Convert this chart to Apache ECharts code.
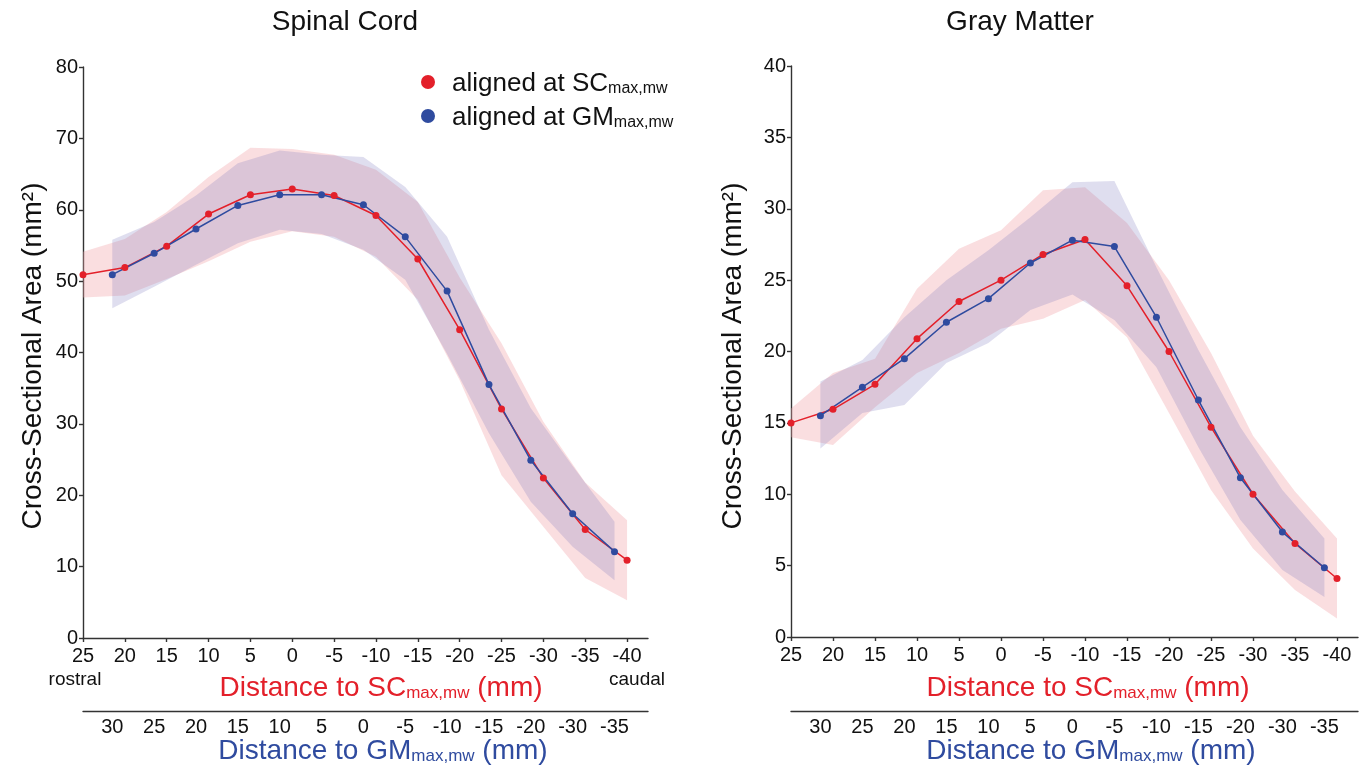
<!DOCTYPE html>
<html><head><meta charset="utf-8">
<script src="https://cdn.jsdelivr.net/npm/echarts@6/dist/echarts.min.js"></script>
<style>html,body{margin:0;padding:0;background:#fff}#c{width:1359px;height:767px}</style>
</head><body><div id="c"></div>
<script>
// ---- data ----
// positions relative to SCmax,mw (mm) for series aligned at SC
const scPositions = [25, 20, 15, 10, 5, 0, -5, -10, -15, -20, -25, -30, -35, -40];
// positions relative to GMmax,mw (mm) for series aligned at GM
const gmPositions = [30, 25, 20, 15, 10, 5, 0, -5, -10, -15, -20, -25, -30];
// GM distance = SC distance + offset
const gmOffset = 8.5;

// Spinal cord panel
const cordScMean = [50.9, 51.9, 54.9, 59.4, 62.1, 62.9, 62.0, 59.2, 53.1, 43.2, 32.1, 22.4, 15.2, 10.9];
const cordScLow  = [47.7, 48.0, 50.3, 52.8, 55.5, 57.0, 56.2, 53.4, 47.4, 36.1, 22.8, 15.6, 8.4, 5.3];
const cordScHigh = [54.1, 55.9, 59.7, 64.6, 68.7, 68.5, 67.7, 65.6, 61.1, 50.5, 41.3, 30.3, 21.8, 16.5];
const cordGmMean = [50.9, 53.9, 57.3, 60.6, 62.1, 62.1, 60.7, 56.2, 48.6, 35.5, 24.9, 17.4, 12.1];
const cordGmLow  = [46.2, 49.2, 52.3, 55.3, 57.2, 56.6, 54.4, 50.2, 39.8, 28.7, 19.1, 12.8, 8.1];
const cordGmHigh = [55.8, 58.3, 62.0, 66.5, 68.3, 67.7, 67.4, 63.2, 56.2, 43.2, 32.2, 24.1, 16.3];

// Gray matter panel
const gmScMean = [15.0, 15.95, 17.7, 20.9, 23.5, 25.0, 26.8, 27.85, 24.6, 20.0, 14.7, 10.0, 6.55, 4.1];
const gmScLow  = [14.0, 13.45, 16.1, 18.5, 19.9, 21.6, 22.3, 23.6, 21.0, 15.7, 10.3, 6.2, 3.3, 1.3];
const gmScHigh = [16.0, 18.5, 19.5, 24.4, 27.2, 28.5, 31.3, 31.5, 29.0, 25.0, 19.9, 14.1, 10.2, 6.9];
const gmGmMean = [15.5, 17.5, 19.5, 22.05, 23.7, 26.2, 27.8, 27.35, 22.4, 16.6, 11.15, 7.35, 4.85];
const gmGmLow  = [13.2, 15.7, 16.25, 19.2, 20.6, 22.9, 24.0, 22.2, 18.9, 13.3, 8.2, 4.7, 2.8];
const gmGmHigh = [17.9, 19.4, 22.4, 25.0, 27.1, 29.4, 31.85, 31.95, 25.9, 20.1, 14.7, 10.3, 6.9];

// tick labels
const scTickValues = [25, 20, 15, 10, 5, 0, -5, -10, -15, -20, -25, -30, -35, -40];
const gmTickValues = [30, 25, 20, 15, 10, 5, 0, -5, -10, -15, -20, -25, -30];
const gmTickLabels = ['30', '25', '20', '15', '10', '5', '0', '-5', '-10', '-15', '-20', '-30', '-35'];
const panelTitles = ['Spinal Cord', 'Gray Matter'];

// ---- chart ----
const RED = '#e3202a', BLUE = '#2f4b9f';
const FONT = "'Liberation Sans', Arial, sans-serif";
const chart = echarts.init(document.getElementById('c'), null, {renderer: 'canvas'});

function bandSeries(name, xIdx, xs, lo, hi, fill) {
  const data = xs.map((x, i) => [x, lo[i], hi[i]]);
  return {
    type: 'custom', name: name, xAxisIndex: xIdx, yAxisIndex: xIdx, silent: true, clip: false,
    encode: {x: 0, y: [1, 2]}, data: data, z: 1,
    renderItem: function (params, api) {
      if (params.dataIndexInside !== 0) return null;
      const n = params.dataInsideLength || data.length;
      const top = [], bot = [];
      for (let i = 0; i < n; i++) {
        top.push(api.coord([api.value(0, i), api.value(2, i)]));
        bot.push(api.coord([api.value(0, i), api.value(1, i)]));
      }
      return {type: 'polygon', shape: {points: top.concat(bot.reverse())}, style: {fill: fill}};
    }
  };
}
function lineSeries(name, xIdx, xs, ys, color) {
  return {
    type: 'line', name: name, xAxisIndex: xIdx, yAxisIndex: xIdx, z: 3,
    data: xs.map((x, i) => [x, ys[i]]),
    symbol: 'circle', symbolSize: 7, showSymbol: true,
    lineStyle: {color: color, width: 1.5}, itemStyle: {color: color}
  };
}
const gmShift = gmPositions.map(g => g - gmOffset);

const axisLineStyle = {color: '#333', width: 1.4};
function mainX(gi) {
  return {
    type: 'value', gridIndex: gi, inverse: true, min: -42.5, max: 25,
    axisLine: {show: true, onZero: false, lineStyle: axisLineStyle},
    axisTick: {show: true, length: 4, customValues: scTickValues, lineStyle: axisLineStyle},
    axisLabel: {customValues: scTickValues, margin: 8, fontSize: 20, fontFamily: FONT, color: '#111'},
    splitLine: {show: false}
  };
}
function gmX(gi) {
  return {
    type: 'value', gridIndex: gi, inverse: true, min: -42.5 + gmOffset, max: 25 + gmOffset, position: 'bottom',
    axisLine: {show: true, onZero: false, lineStyle: axisLineStyle},
    axisTick: {show: false},
    axisLabel: {customValues: gmTickValues, margin: 6, fontSize: 20, fontFamily: FONT, color: '#111',
      formatter: v => { const k = gmTickValues.indexOf(v); return k >= 0 ? gmTickLabels[k] : ''; }},
    splitLine: {show: false}
  };
}
function mainY(gi, max, interval) {
  return {
    type: 'value', gridIndex: gi, min: 0, max: max, interval: interval,
    axisLine: {show: true, onZero: false, lineStyle: axisLineStyle},
    axisTick: {show: true, length: 4, lineStyle: axisLineStyle},
    axisLabel: {margin: 5, fontSize: 20, fontFamily: FONT, color: '#111'},
    splitLine: {show: false}
  };
}
function hiddenY(gi) {
  return {type: 'value', gridIndex: gi, min: 0, max: 1, show: false};
}

function sub(main, color, size, subSize, x, y) {
  return {
    type: 'text', x: x, y: y,
    style: {
      text: '{a|' + main[0] + '}{s|max,mw}{a|' + main[1] + '}',
      rich: {
        a: {fontSize: size, fontFamily: FONT, fill: color, color: color, verticalAlign: 'bottom'},
        s: {fontSize: subSize, fontFamily: FONT, fill: color, color: color, verticalAlign: 'bottom'}
      },
      align: 'center', textAlign: 'center', verticalAlign: 'middle', textVerticalAlign: 'middle'
    }
  };
}
function txt(text, x, y, size, color, rot) {
  return {
    type: 'text', x: x, y: y, rotation: rot || 0,
    style: {text: text, fontSize: size, fontFamily: FONT, fill: color,
      align: 'center', textAlign: 'center', verticalAlign: 'middle', textVerticalAlign: 'middle'}
  };
}
const graphics = [
  txt(panelTitles[0], 345, 22, 28, '#111'),
  txt(panelTitles[1], 1020, 22, 28, '#111'),
  txt('Cross-Sectional Area (mm²)', 33, 356, 28, '#111', Math.PI / 2),
  txt('Cross-Sectional Area (mm²)', 733, 356, 28, '#111', Math.PI / 2),
  txt('rostral', 75, 680, 19, '#111'),
  txt('caudal', 637, 680, 19, '#111'),
  sub(['Distance to SC', ' (mm)'], RED, 28, 17, 381, 688),
  sub(['Distance to SC', ' (mm)'], RED, 28, 17, 1088, 688),
  sub(['Distance to GM', ' (mm)'], BLUE, 28, 17, 383, 751),
  sub(['Distance to GM', ' (mm)'], BLUE, 28, 17, 1091, 751)
];

const option = {
  backgroundColor: '#fff',
  animation: false,
  grid: [
    {left: 83, right: 711, top: 67, bottom: 129},
    {left: 791, right: 1, top: 66, bottom: 130},
    {left: 83, right: 711, top: 710, height: 1},
    {left: 791, right: 1, top: 710, height: 1}
  ],
  xAxis: [mainX(0), mainX(1), gmX(2), gmX(3)],
  yAxis: [mainY(0, 80, 10), mainY(1, 40, 5), hiddenY(2), hiddenY(3)],
  legend: {
    data: ['SC', 'GM'], orient: 'vertical', left: 416, top: 66, itemGap: 8,
    icon: 'circle', itemWidth: 14, itemHeight: 14,
    formatter: n => '{a|aligned at ' + n + '}{s|max,mw}',
    textStyle: {
      rich: {
        a: {fontSize: 26, fontFamily: FONT, color: '#111', lineHeight: 30, verticalAlign: 'bottom', padding: [0, 0, 0, 12]},
        s: {fontSize: 16, fontFamily: FONT, color: '#111', lineHeight: 30, verticalAlign: 'bottom'}
      }
    },
    selectedMode: false
  },
  graphic: graphics,
  series: [
    bandSeries('bandSC0', 0, scPositions, cordScLow, cordScHigh, 'rgba(242,160,165,0.35)'),
    bandSeries('bandGM0', 0, gmShift, cordGmLow, cordGmHigh, 'rgba(120,115,190,0.24)'),
    lineSeries('SC', 0, scPositions, cordScMean, RED),
    lineSeries('GM', 0, gmShift, cordGmMean, BLUE),
    bandSeries('bandSC1', 1, scPositions, gmScLow, gmScHigh, 'rgba(242,160,165,0.35)'),
    bandSeries('bandGM1', 1, gmShift, gmGmLow, gmGmHigh, 'rgba(120,115,190,0.24)'),
    lineSeries('SC', 1, scPositions, gmScMean, RED),
    lineSeries('GM', 1, gmShift, gmGmMean, BLUE)
  ]
};
chart.setOption(option);
</script>
</body></html>
